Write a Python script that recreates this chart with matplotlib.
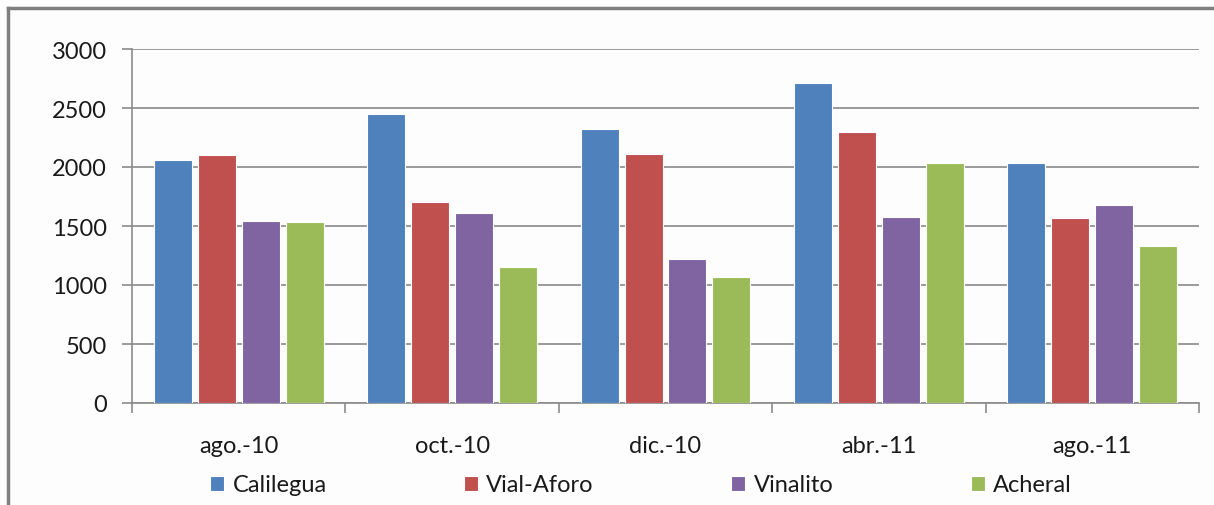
import numpy as np
import matplotlib.pyplot as plt
from matplotlib.lines import Line2D

# monthly values per site
months = ['ago.-10', 'oct.-10', 'dic.-10', 'abr.-11', 'ago.-11']
calilegua = [2060, 2450, 2320, 2710, 2030]
vial_aforo = [2100, 1700, 2110, 2300, 1570]
vinalito = [1540, 1610, 1220, 1580, 1680]
acheral = [1530, 1150, 1070, 2030, 1330]

series = [('Calilegua', calilegua, '#4F81BD'),
          ('Vial-Aforo', vial_aforo, '#C0504D'),
          ('Vinalito', vinalito, '#8064A2'),
          ('Acheral', acheral, '#9BBB59')]

plt.rcParams['font.family'] = ['Lato', 'DejaVu Sans']
fs = 17
txt = '#1a1a1a'

fig = plt.figure(figsize=(12.14, 5.06), dpi=100)
fig.patch.set_facecolor('#fdfdfd')
ax = fig.add_axes([132/1214, 1 - 404/506, (1199 - 132)/1214, (404 - 50)/506])
ax.set_facecolor('#fdfdfd')

x = np.arange(len(months))
w = 0.178
step = 0.206
for i, (name, vals, col) in enumerate(series):
    ax.bar(x + (i - 1.5) * step, vals, width=w, color=col,
           edgecolor='white', linewidth=0.8, label=name, zorder=3)

ax.set_xlim(-0.5, len(months) - 0.5)
ax.set_ylim(0, 3000)
ax.set_yticks(np.arange(0, 3001, 500))
ax.yaxis.grid(True, color='#9a9a9a', linewidth=1.4, zorder=0)

# category boundaries get the tick marks, labels sit at the centres
ax.set_xticks(np.arange(-0.5, len(months), 1))
ax.set_xticklabels([])
ax.set_xticks(x, minor=True)
ax.set_xticklabels(months, minor=True, fontsize=fs, color=txt)
ax.tick_params(axis='x', which='minor', length=0, pad=23)
ax.tick_params(axis='x', which='major', length=7, color='#8c8c8c', width=1.2)
ax.tick_params(axis='y', length=7, color='#8c8c8c', width=1.2, pad=11,
               labelsize=fs, labelcolor=txt)

for s in ['top', 'right']:
    ax.spines[s].set_visible(False)
for s in ['left', 'bottom']:
    ax.spines[s].set_color('#8c8c8c')
    ax.spines[s].set_linewidth(1.2)

leg = fig.legend(loc='center left', ncol=4, mode='expand',
                 bbox_to_anchor=(210/1214, 1 - 486/506, (1072 - 210)/1214, 0.0),
                 frameon=False, fontsize=fs, handlelength=0.6,
                 handleheight=0.6, handletextpad=0.35, borderaxespad=0,
                 borderpad=0)
for t in leg.get_texts():
    t.set_color(txt)

# outer frame line along top and left edges
fig.add_artist(Line2D([8/1214, 1], [1 - 9/506, 1 - 9/506], color='#808080', linewidth=2.5))
fig.add_artist(Line2D([8/1214, 8/1214], [0, 1 - 9/506], color='#808080', linewidth=2.5))

fig.savefig('out.png', dpi=100, facecolor=fig.get_facecolor())
